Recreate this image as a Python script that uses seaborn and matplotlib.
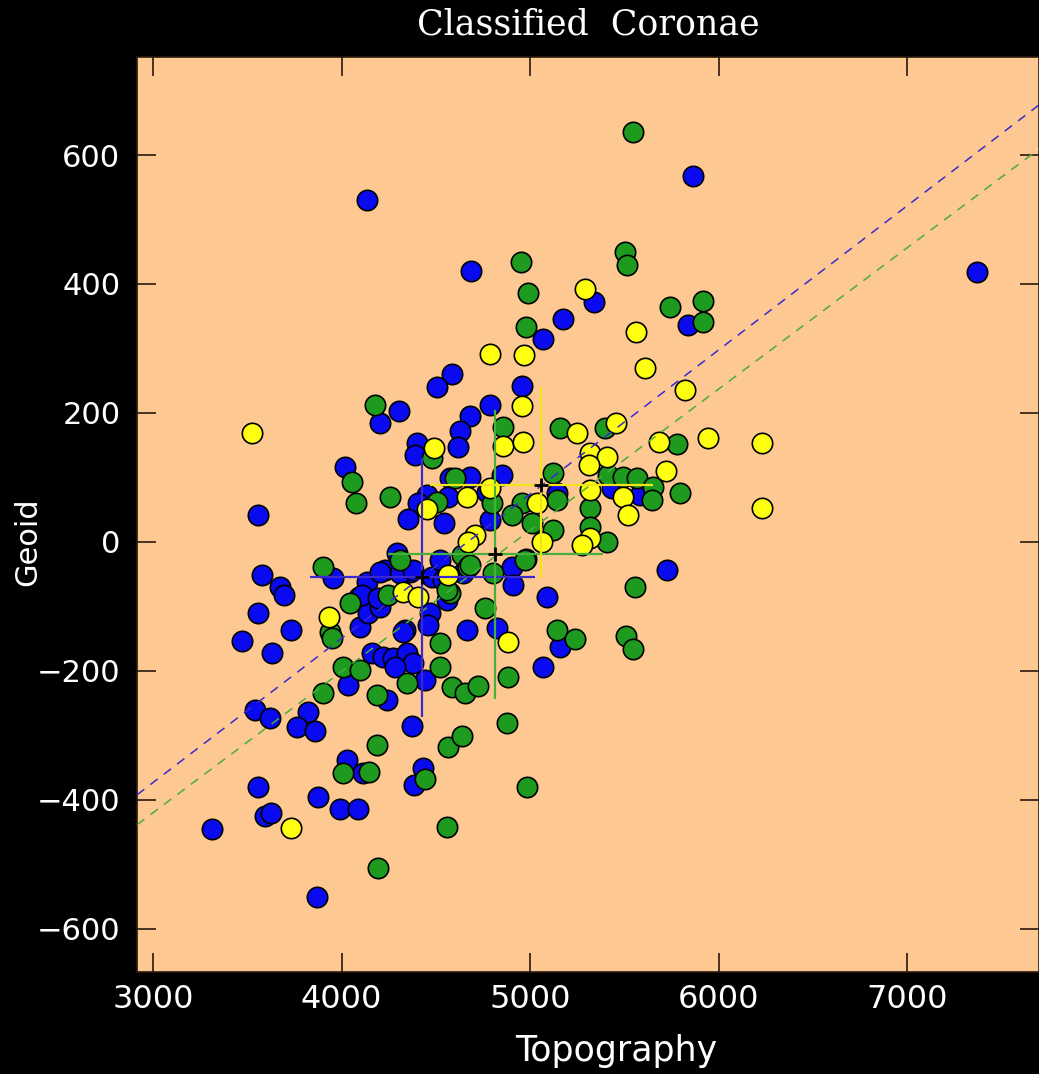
import numpy as np
import pandas as pd
import matplotlib
matplotlib.use("Agg")
import matplotlib.pyplot as plt
import seaborn as sns

# Coronae classes: topography / geoid values
blue_topo = [4134, 5867, 7373, 4685, 5836, 5337, 5173, 5067, 4585, 4505, 4956, 4786, 4680, 4627,
             4617, 4304, 4203, 4399, 4389, 4018, 4574, 4680, 4564, 4452, 4405, 4352, 4542, 4770,
             4850, 4786, 5141, 5433, 5581, 3557, 3578, 3673, 3694, 3557, 3731, 3472, 3631, 3954,
             4134, 4230, 4293, 4362, 4092, 4150, 4097, 4336, 4468, 4458, 4664, 4823, 5088, 5067,
             5157, 4161, 4219, 4272, 4346, 4378, 4283, 4034, 3541, 3620, 3822, 3763, 3859, 4240,
             4442, 4373, 4028, 4113, 4431, 4383, 3557, 3875, 3991, 4087, 3594, 3625, 3313, 3869,
             4309, 4378, 4479, 4521, 4537, 4643, 4558, 4140, 4203, 4903, 4908, 5724, 4108, 4193,
             4325, 4203]
blue_geoid = [530, 567, 419, 420, 336, 372, 346, 315, 260, 240, 242, 212, 195, 172,
              147, 203, 184, 153, 135, 116, 99, 101, 70, 73, 60, 36, 29, 78,
              104, 34, 76, 84, 73, 42, -51, -70, -82, -110, -136, -153, -172, -56,
              -62, -43, -17, -46, -85, -101, -132, -136, -110, -129, -136, -133, -85, -194,
              -163, -172, -178, -180, -172, -188, -194, -222, -260, -273, -264, -287, -293, -245,
              -214, -285, -338, -358, -350, -377, -380, -395, -414, -415, -425, -420, -446, -550,
              -48, -43, -54, -28, -59, -48, -90, -110, -101, -39, -67, -43, -82, -87,
              -140, -46]

green_topo = [5544, 5502, 5512, 4950, 4988, 4977, 5740, 5915, 5915, 4177, 4055, 4076, 4256, 4601,
              4505, 4479, 4855, 5157, 5396, 5777, 5412, 5491, 5565, 5650, 5645, 5793, 5316, 5316,
              5406, 5120, 5141, 5120, 4956, 4903, 5009, 4797, 4638, 4670, 4802, 4977, 4574, 3901,
              3938, 3949, 4044, 4760, 5141, 5237, 4007, 4097, 4521, 4882, 4187, 3901, 4346, 4585,
              4654, 4723, 4521, 4876, 4187, 4564, 4638, 4007, 4145, 4442, 4982, 4558, 4193, 4309,
              4245, 4680, 4558, 4972, 5555, 5507, 5544]
green_geoid = [636, 450, 429, 434, 386, 333, 364, 374, 341, 212, 93, 60, 70, 99,
               62, 130, 178, 177, 177, 152, 104, 101, 99, 85, 65, 76, 53, 23,
               0, 107, 65, 19, 60, 42, 29, 60, -20, -39, -48, -26, -79, -39,
               -140, -149, -95, -102, -136, -150, -194, -198, -194, -209, -237, -234, -219, -225,
               -234, -223, -157, -281, -315, -318, -301, -358, -357, -367, -380, -442, -505, -28,
               -82, -36, -74, -28, -70, -146, -166]

yellow_topo = [4786, 4966, 5290, 4956, 4855, 4961, 5247, 5454, 5820, 5560, 5608, 5682, 5316, 5406,
               5311, 5719, 5942, 6233, 6228, 5491, 5518, 5316, 5316, 5274, 5062, 5035, 4786, 4882,
               3731, 3525, 3933, 4452, 4489, 4664, 4707, 4670, 4564, 4325, 4405]
yellow_geoid = [291, 290, 392, 211, 149, 155, 169, 184, 236, 326, 270, 155, 138, 132,
                119, 110, 161, 153, 53, 70, 42, 81, 6, -5, 0, 60, 84, -155,
                -443, 169, -116, 51, 146, 70, 11, 0, -51, -78, -85]

classes = ["blue", "green", "yellow"]
point_colors = {"blue": "#0a0af0", "green": "#1e9a1e", "yellow": "#ffff10"}
line_colors = {"blue": "#3a2ad0", "green": "#46b03a", "yellow": "#f2e41c"}

# mean cross per class: centre, horizontal extent, vertical extent
cross_x = [4428, 4815, 5060]
cross_y = [-54, -19, 88]
cross_xlo = [3832, 4245, 4470]
cross_xhi = [5025, 5385, 5650]
cross_ylo = [-271, -243, -56]
cross_yhi = [130, 205, 240]

# dashed fit lines (intercept, slope)
fit_intercept = [-1044, -1077]
fit_slope = [0.2236, 0.219]
fit_classes = ["blue", "green"]

df = pd.concat([
    pd.DataFrame({"Topography": blue_topo, "Geoid": blue_geoid, "cls": "blue"}),
    pd.DataFrame({"Topography": green_topo, "Geoid": green_geoid, "cls": "green"}),
    pd.DataFrame({"Topography": yellow_topo, "Geoid": yellow_geoid, "cls": "yellow"}),
], ignore_index=True)

plt.rcParams["font.family"] = ["DejaVu Sans"]

fig = plt.figure(figsize=(10.39, 10.74), dpi=100, facecolor="black")
ax = fig.add_axes([0.1319, 0.0950, 0.8681, 0.8519])
ax.set_facecolor("#fdc891")

for c in classes:
    sns.scatterplot(data=df[df.cls == c], x="Topography", y="Geoid", ax=ax,
                    color=point_colors[c], s=215, edgecolor="black", linewidth=1.2,
                    legend=False, zorder=2)

for c, b0, b1 in zip(fit_classes, fit_intercept, fit_slope):
    ax.axline((0, b0), slope=b1, color=line_colors[c], lw=1.1, ls=(0, (6, 5)), zorder=3)

for i, c in enumerate(classes):
    ax.errorbar(cross_x[i], cross_y[i],
                xerr=[[cross_x[i] - cross_xlo[i]], [cross_xhi[i] - cross_x[i]]],
                yerr=[[cross_y[i] - cross_ylo[i]], [cross_yhi[i] - cross_y[i]]],
                fmt="none", ecolor=line_colors[c], elinewidth=1.6, capsize=0, zorder=4)
    ax.plot(cross_x[i], cross_y[i], marker="+", color="black", ms=10, mew=2, zorder=5)

ax.set_xlim(2915, 7700)
ax.set_ylim(-667, 752)
ax.set_xticks([3000, 4000, 5000, 6000, 7000])
ax.set_yticks([-600, -400, -200, 0, 200, 400, 600])
ax.tick_params(direction="in", length=14, width=1.2, color="#2a1810",
               top=True, right=True, labelcolor="white")
ax.tick_params(axis="x", pad=9, labelsize=23)
ax.tick_params(axis="y", pad=12, labelsize=22)
for sp in ax.spines.values():
    sp.set_color("#2a1810")
    sp.set_linewidth(1.2)

ax.set_xlabel("Topography", color="white", fontsize=25)
ax.xaxis.set_label_coords(0.531, -0.068)
ax.set_ylabel("Geoid", color="white", fontsize=22)
ax.yaxis.set_label_coords(-0.105, 0.47)
ax.set_title("Classified  Coronae", color="white", fontsize=25,
             family=["DejaVu Serif"], pad=16)

fig.savefig("out.png", dpi=100, facecolor="black")
